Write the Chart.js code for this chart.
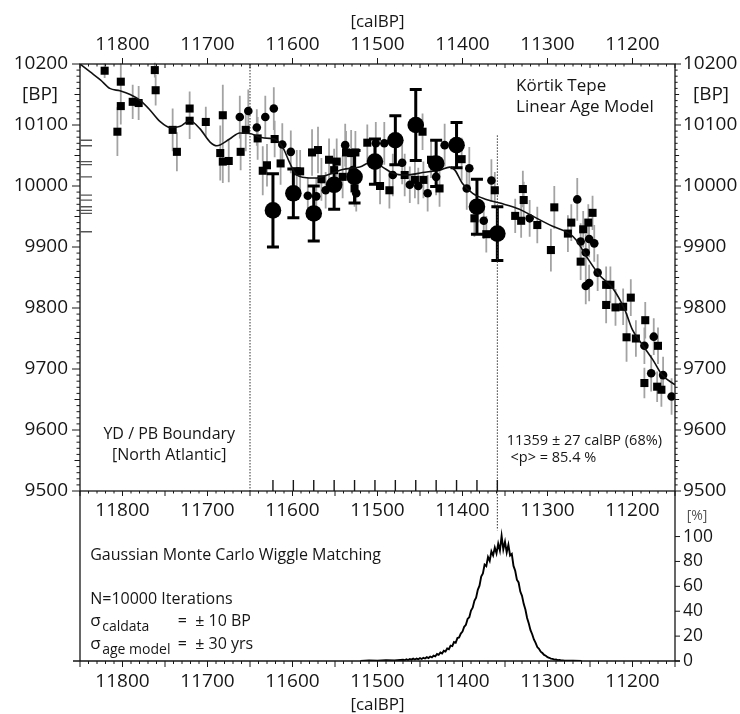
<!DOCTYPE html>
<html>
<head>
<meta charset="utf-8">
<script src="https://cdn.jsdelivr.net/npm/chart.js@4.4.1/dist/chart.umd.min.js"></script>
<style>
  html, body { margin: 0; padding: 0; background: #fff; }
  #wrap { position: relative; width: 740px; height: 714px; }
  #wrap > div { position: absolute; left: 0; top: 0; width: 740px; height: 714px; }
</style>
</head>
<body>
<div id="wrap">
  <div><canvas id="topChart"></canvas></div>
  <div><canvas id="botChart"></canvas></div>
</div>
<script>
/* ══ Körtik Tepe — wiggle match chart ═══════════════════════════════════════ */

// ── Axes ranges & tick labels ─────────────────────────────────────────────────
const X_MIN = 11150, X_MAX = 11850;      // calBP (reversed)
const BP_MIN = 9500, BP_MAX = 10200;     // 14C age
const PCT_MAX = 136.6;                   // lower panel reaches up to the 9500 line
const yearTicks = [11200, 11300, 11400, 11500, 11600, 11700, 11800];
const bpTicks   = [9500, 9600, 9700, 9800, 9900, 10000, 10100, 10200];
const pctTicks  = [0, 20, 40, 60, 80, 100];

// ── Calibration curve ─────────────────────────────────────────────────────────
const curveYear = [11850, 11838, 11826, 11815, 11803, 11791, 11780, 11768, 11756, 11744,
                   11732, 11721, 11709, 11697, 11689, 11674, 11662, 11650, 11638, 11627,
                   11621, 11611, 11603, 11595, 11586, 11574, 11568, 11553, 11541, 11521,
                   11506, 11494, 11482, 11466, 11447, 11427, 11415, 11409, 11400, 11388,
                   11372, 11356, 11333, 11318, 11294, 11274, 11266, 11254, 11239, 11223,
                   11209, 11200, 11188, 11176, 11165, 11150];
const curveBP   = [10200, 10187, 10174, 10160, 10156, 10150, 10141, 10125, 10106, 10096,
                   10098, 10107, 10094, 10072, 10066, 10077, 10087, 10086, 10080, 10078,
                   10077, 10062, 10037, 10018, 10014, 10013, 10014, 10021, 10027, 10031,
                   10040, 10031, 10021, 10018, 10022, 10026, 10031, 10026, 10004, 9988,
                   9978, 9972, 9962, 9951, 9934, 9922, 9911, 9884, 9854, 9832,
                   9797, 9764, 9739, 9715, 9690, 9674];

// ── Calibration data: squares ─────────────────────────────────────────────────
const sqYear = [11821, 11802, 11806, 11802, 11788, 11781, 11762, 11761, 11741, 11736,
                11721, 11721, 11702, 11685, 11682, 11682, 11675, 11661, 11655, 11641,
                11635, 11630, 11621, 11614, 11595, 11591, 11577, 11570, 11566, 11557,
                11551, 11548, 11541, 11537, 11531, 11527, 11526, 11512, 11497, 11486,
                11468, 11456, 11446, 11447, 11437, 11427, 11401, 11386, 11372, 11362,
                11338, 11331, 11329, 11328, 11312, 11296, 11292, 11276, 11272, 11258,
                11252, 11247, 11261, 11231, 11226, 11231, 11220, 11211, 11202, 11207,
                11196, 11185, 11170, 11186, 11171, 11166];
const sqBP   = [10189, 10171, 10089, 10131, 10138, 10136, 10190, 10157, 10092, 10056,
                10127, 10107, 10105, 10054, 10116, 10040, 10041, 10056, 10092, 10078,
                10025, 10034, 10077, 10037, 10024, 10024, 10055, 10059, 10011, 10043,
                10026, 10040, 10015, 10055, 10054, 9996, 10055, 10071, 10000, 9993,
                10018, 10010, 10010, 10089, 10043, 9996, 10044, 9947, 9921, 9993,
                9951, 9943, 9995, 9977, 9936, 9895, 9965, 9922, 9940, 9929,
                9940, 9956, 9876, 9838, 9838, 9805, 9801, 9802, 9817, 9752,
                9750, 9780, 9738, 9677, 9671, 9666];
const sqErr  = [12, 30, 40, 30, 28, 28, 12, 25, 35, 32,
                28, 30, 25, 45, 50, 35, 35, 30, 35, 35,
                40, 35, 30, 35, 35, 35, 38, 38, 35, 35,
                35, 38, 35, 35, 38, 30, 35, 30, 30, 30,
                35, 30, 30, 30, 30, 30, 35, 30, 30, 30,
                28, 28, 30, 30, 30, 35, 35, 30, 30, 30,
                30, 28, 30, 30, 30, 30, 30, 30, 30, 40,
                30, 30, 30, 25, 25, 28];

// ── Calibration data: circles ─────────────────────────────────────────────────
const ciYear = [11662, 11652, 11642, 11632, 11622, 11612, 11602, 11582, 11572, 11561,
                11538, 11529, 11525, 11502, 11492, 11482, 11471, 11462, 11452, 11441,
                11431, 11421, 11395, 11392, 11375, 11366, 11321, 11265, 11261, 11255,
                11251, 11245, 11255, 11251, 11241, 11186, 11175, 11178, 11164, 11154];
const ciBP   = [10113, 10123, 10096, 10113, 10127, 10068, 10056, 9984, 9983, 9993,
                10067, 10026, 9988, 10070, 10070, 10018, 10038, 10002, 10000, 9988,
                10015, 10067, 9996, 10029, 9943, 10009, 9947, 9978, 9909, 9891,
                9913, 9906, 9836, 9841, 9858, 9738, 9753, 9693, 9690, 9655];
const ciErr  = [35, 35, 30, 35, 35, 35, 35, 30, 30, 30,
                35, 35, 30, 35, 35, 35, 35, 30, 30, 30,
                30, 35, 35, 35, 30, 35, 30, 35, 30, 30,
                30, 30, 30, 30, 30, 30, 30, 30, 30, 30];

// ── Körtik Tepe samples (linear age model) ────────────────────────────────────
const bigYear = [11623, 11599, 11575, 11551, 11527, 11503, 11479, 11455, 11431, 11407, 11383, 11359];
const bigBP   = [9960, 9988, 9955, 10002, 10015, 10040, 10075, 10100, 10037, 10067, 9966, 9922];
const bigErr  = [60, 40, 45, 40, 43, 37, 40, 58, 38, 37, 45, 44];

// ── Rug of sample ages on the left axis ───────────────────────────────────────
const rugBP = [10075, 10066, 10040, 10035, 10015, 9985, 9977, 9966, 9960, 9955, 9925];

// ── Monte Carlo distribution [%] ──────────────────────────────────────────────
const histYear = [11520, 11510, 11500, 11490, 11480,
  11470, 11468, 11466, 11464, 11462, 11460, 11458, 11456, 11454, 11452,
  11450, 11448, 11446, 11444, 11442, 11440, 11438, 11436, 11434, 11432,
  11430, 11428, 11426, 11424, 11422, 11420, 11418, 11416, 11414, 11412,
  11410, 11408, 11406, 11404, 11402, 11400, 11398, 11396, 11394, 11392,
  11390, 11388, 11386, 11384, 11382, 11380, 11378, 11376, 11374, 11372,
  11370, 11368, 11366, 11364, 11362, 11360, 11358, 11356, 11354, 11352,
  11350, 11348, 11346, 11344, 11342, 11340, 11338, 11336, 11334, 11332,
  11330, 11328, 11326, 11324, 11322, 11320, 11318, 11316, 11314, 11312,
  11310, 11308, 11306, 11304, 11302, 11300, 11298, 11296, 11294, 11292,
  11290, 11288, 11286, 11284, 11282, 11280, 11270, 11260];
const histPct = [0.0, 0.4, 0.2, 0.7, 0.5,
  1.0, 0.6, 1.4, 0.8, 1.6, 1.1, 1.9, 1.2, 2.0, 1.4,
  2.3, 1.6, 2.6, 2.0, 3.1, 2.4, 3.6, 2.9, 4.4, 3.8,
  5.6, 4.9, 6.8, 6.1, 8.2, 7.6, 10.1, 9.5, 12.3, 12.0,
  15.2, 14.6, 18.4, 18.9, 22.0, 23.6, 27.5, 29.1, 33.8, 35.2,
  40.5, 42.8, 48.3, 50.9, 57.2, 60.5, 67.8, 70.3, 77.5, 76.2,
  83.6, 80.4, 88.1, 84.9, 91.2, 86.5, 94.3, 88.7, 100.5, 89.6,
  95.8, 87.2, 93.4, 84.8, 86.1, 76.4, 72.5, 65.3, 63.1, 55.8,
  52.4, 45.9, 41.3, 34.6, 30.2, 24.8, 21.5, 17.3, 14.6, 11.2,
  9.8, 7.5, 6.4, 4.9, 4.2, 3.1, 2.6, 1.9, 1.7, 1.1,
  1.2, 0.7, 0.8, 0.4, 0.5, 0.2, 0.2, 0.0];

// ── Markers ───────────────────────────────────────────────────────────────────
const YD_PB = 11650;          // YD / PB boundary
const WM_AGE = 11359;         // wiggle match result
const WM_TOP_BP = 10083;      // dotted line starts here in the upper panel
const WM_TOP_PCT = 105;       // and ends here in the lower panel

// ── Style ─────────────────────────────────────────────────────────────────────
const FONT = "'Open Sans', sans-serif";
const INK = '#161616';
const BAR = '#a3a3a3';
Chart.defaults.font.family = FONT;
Chart.defaults.color = INK;

const pts = (xs, ys) => xs.map((x, i) => ({ x, y: ys[i] }));
const fixTicks = vals => s => { s.ticks = vals.map(value => ({ value })); };
const plain = v => String(v);

function txt(ctx, s, px, py, size, align = 'left', color = INK) {
    ctx.font = `${size}px ${FONT}`;
    ctx.fillStyle = color;
    ctx.textAlign = align;
    ctx.textBaseline = 'alphabetic';
    ctx.fillText(s, px, py);
}

const xTicks = pad => ({ padding: pad, autoSkip: false, maxRotation: 0, callback: plain,
                         font: { size: 19 }, color: INK });
const noGrid = { display: false, drawTicks: false };

// ── Plugins ───────────────────────────────────────────────────────────────────
const errorBars = {
    id: 'errorBars',
    beforeDatasetsDraw(chart) {
        const { ctx, scales: { x, y } } = chart;
        const withErr = chart.data.datasets.filter(d => d.errs);
        withErr.sort((a, b) => (a.errCap || 0) - (b.errCap || 0));
        ctx.save();
        withErr.forEach(ds => {
            ctx.strokeStyle = ds.errColor; ctx.lineWidth = ds.errWidth;
            ctx.beginPath();
            ds.data.forEach((p, i) => {
                const px = x.getPixelForValue(p.x);
                const lo = y.getPixelForValue(p.y - ds.errs[i]);
                const hi = y.getPixelForValue(p.y + ds.errs[i]);
                ctx.moveTo(px, lo); ctx.lineTo(px, hi);
                if (ds.errCap) {
                    ctx.moveTo(px - ds.errCap, lo); ctx.lineTo(px + ds.errCap, lo);
                    ctx.moveTo(px - ds.errCap, hi); ctx.lineTo(px + ds.errCap, hi);
                }
            });
            ctx.stroke();
        });
        ctx.restore();
    }
};

const topFrame = {
    id: 'topFrame',
    afterDraw(chart) {
        const { ctx, chartArea: a, scales: { x, y, yr } } = chart;
        ctx.save();
        ctx.strokeStyle = INK; ctx.lineWidth = 1.3;
        ctx.strokeRect(a.left, a.top, a.right - a.left, a.bottom - a.top);

        ctx.beginPath();
        ctx.lineWidth = 1;
        for (let v = X_MIN; v <= X_MAX; v += 10) {
            const px = x.getPixelForValue(v);
            if (v % 100 === 0) { ctx.moveTo(px, a.top - 6); ctx.lineTo(px, a.top); }
            else { ctx.moveTo(px, a.top); ctx.lineTo(px, a.top + (v % 50 === 0 ? 4 : 2.5)); }
            ctx.moveTo(px, a.bottom); ctx.lineTo(px, a.bottom + (v % 50 === 0 ? 5 : 2.5));
        }
        for (let v = BP_MIN; v <= BP_MAX; v += 10) {
            const py = y.getPixelForValue(v);
            const len = v % 100 === 0 ? 8 : v % 50 === 0 ? 5.5 : 3.5;
            ctx.moveTo(a.left - len, py); ctx.lineTo(a.left, py);
            ctx.moveTo(a.right, py); ctx.lineTo(a.right + len * 0.75, py);
        }
        ctx.stroke();

        // sample positions along the bottom edge
        ctx.beginPath(); ctx.lineWidth = 1.4;
        bigYear.forEach(v => {
            const px = x.getPixelForValue(v);
            ctx.moveTo(px, a.bottom); ctx.lineTo(px, a.bottom - 11);
        });
        ctx.stroke();

        // rug on the left axis
        ctx.beginPath(); ctx.strokeStyle = '#555'; ctx.lineWidth = 1.3;
        rugBP.forEach(v => {
            const py = y.getPixelForValue(v);
            ctx.moveTo(a.left, py); ctx.lineTo(a.left + 12, py);
        });
        ctx.stroke();

        // labels
        const X = v => x.getPixelForValue(v), Y = v => y.getPixelForValue(v);
        txt(ctx, '[BP]', (y.left + y.right) / 2, Y(10141), 19, 'center');
        txt(ctx, '[BP]', yr.left + 36, Y(10141), 19, 'center');
        txt(ctx, 'Körtik Tepe', X(11337), Y(10156), 17);
        txt(ctx, 'Linear Age Model', X(11337), Y(10122), 17);
        txt(ctx, 'YD / PB Boundary', X(11745), Y(9586), 16, 'center');
        txt(ctx, '[North Atlantic]', X(11745), Y(9551), 16, 'center');
        txt(ctx, '11359 ± 27 calBP (68%)', X(11348), Y(9575), 14.5);
        txt(ctx, ' <p> = 85.4 %', X(11348), Y(9547), 14.5);
        ctx.restore();
    }
};

const botFrame = {
    id: 'botFrame',
    afterDraw(chart) {
        const { ctx, chartArea: a, scales: { x, yp } } = chart;
        ctx.save();
        ctx.strokeStyle = INK; ctx.lineWidth = 1.3;
        ctx.beginPath();
        ctx.moveTo(a.left, a.top); ctx.lineTo(a.left, a.bottom);
        ctx.moveTo(a.right, a.top); ctx.lineTo(a.right, a.bottom);
        ctx.moveTo(a.left - 7, a.bottom); ctx.lineTo(a.right + 5, a.bottom);
        ctx.stroke();

        ctx.beginPath(); ctx.lineWidth = 1;
        for (let v = X_MIN; v <= X_MAX; v += 10) {
            const px = x.getPixelForValue(v);
            ctx.moveTo(px, a.bottom); ctx.lineTo(px, a.bottom + (v % 50 === 0 ? 6 : 3));
        }
        pctTicks.forEach(v => {
            const py = yp.getPixelForValue(v);
            ctx.moveTo(a.right, py); ctx.lineTo(a.right + 5, py);
        });
        ctx.stroke();

        const X = v => x.getPixelForValue(v), Y = v => yp.getPixelForValue(v);
        txt(ctx, '[%]', yp.left + 22, Y(113.4), 14, 'center', '#555');
        txt(ctx, 'Gaussian Monte Carlo Wiggle Matching', X(11838), Y(81.4), 16);
        txt(ctx, 'N=10000 Iterations', X(11838), Y(45.4), 16);
        const sig = (sub, rest, base) => {
            const px = X(11838), py = Y(base);
            txt(ctx, 'σ', px, py, 17);
            txt(ctx, sub, px + 12, py + 5, 14);
            txt(ctx, rest, X(11735), py, 16);
        };
        sig('caldata', '=  ± 10 BP', 27.8);
        sig('age model', '=  ± 30 yrs', 9.4);
        ctx.restore();
    }
};

// ── Upper panel ───────────────────────────────────────────────────────────────
new Chart(document.getElementById('topChart'), {
    type: 'scatter',
    data: {
        datasets: [
            { data: pts(bigYear, bigBP), errs: bigErr, errColor: '#000', errWidth: 3, errCap: 6,
              pointRadius: 8.3, backgroundColor: '#000', borderWidth: 0, order: 0 },
            { data: pts(curveYear, curveBP), showLine: true, cubicInterpolationMode: 'monotone',
              borderColor: '#111', borderWidth: 1.6, pointRadius: 0, order: 1 },
            { data: pts(ciYear, ciBP), errs: ciErr, errColor: BAR, errWidth: 1.8,
              pointRadius: 4.3, backgroundColor: '#000', borderWidth: 0, order: 2 },
            { data: pts(sqYear, sqBP), errs: sqErr, errColor: BAR, errWidth: 1.8,
              pointStyle: 'rect', pointRadius: 5.7, backgroundColor: '#000', borderWidth: 0, order: 3 },
            { data: [{ x: YD_PB, y: BP_MAX }, { x: YD_PB, y: BP_MIN }], showLine: true,
              borderColor: '#333', borderWidth: 1, borderDash: [1.5, 1.5], pointRadius: 0, order: 5 },
            { data: [{ x: WM_AGE, y: WM_TOP_BP }, { x: WM_AGE, y: BP_MIN }], showLine: true,
              borderColor: '#333', borderWidth: 1, borderDash: [1.5, 1.5], pointRadius: 0, order: 5 },
        ]
    },
    options: {
        responsive: true, maintainAspectRatio: false, animation: false, events: [],
        layout: { padding: 0 },
        plugins: { legend: { display: false }, tooltip: { enabled: false } },
        scales: {
            x: { type: 'linear', position: 'top', min: X_MIN, max: X_MAX, reverse: true,
                 grid: noGrid, border: { display: false }, ticks: xTicks(8),
                 afterBuildTicks: fixTicks(yearTicks),
                 title: { display: true, text: '[calBP]', font: { size: 17 }, color: INK, padding: { top: 12, bottom: 0 } },
                 afterFit: s => { s.height = 64; } },
            xb: { type: 'linear', position: 'bottom', min: X_MIN, max: X_MAX, reverse: true,
                  grid: noGrid, border: { display: false }, ticks: xTicks(8),
                  afterBuildTicks: fixTicks(yearTicks),
                  afterFit: s => { s.height = 223; } },
            y: { type: 'linear', position: 'left', min: BP_MIN, max: BP_MAX,
                 grid: noGrid, border: { display: false },
                 ticks: { padding: 12, font: { size: 19 }, color: INK, callback: plain },
                 afterBuildTicks: fixTicks(bpTicks),
                 afterFit: s => { s.width = 80; } },
            yr: { type: 'linear', position: 'right', min: BP_MIN, max: BP_MAX,
                  grid: noGrid, border: { display: false },
                  ticks: { padding: 8, font: { size: 19 }, color: INK, callback: plain },
                  afterBuildTicks: fixTicks(bpTicks),
                  afterFit: s => { s.width = 65; } },
        }
    },
    plugins: [errorBars, topFrame]
});

// ── Lower panel ───────────────────────────────────────────────────────────────
new Chart(document.getElementById('botChart'), {
    type: 'scatter',
    data: {
        datasets: [
            { data: pts(histYear, histPct), yAxisID: 'yp', showLine: true,
              borderColor: '#000', borderWidth: 1.9, pointRadius: 0 },
            { data: [{ x: WM_AGE, y: PCT_MAX }, { x: WM_AGE, y: WM_TOP_PCT }], yAxisID: 'yp', showLine: true,
              borderColor: '#333', borderWidth: 1, borderDash: [1.5, 1.5], pointRadius: 0 },
        ]
    },
    options: {
        responsive: true, maintainAspectRatio: false, animation: false, events: [],
        layout: { padding: { top: 491 } },
        plugins: { legend: { display: false }, tooltip: { enabled: false } },
        scales: {
            x: { type: 'linear', position: 'bottom', min: X_MIN, max: X_MAX, reverse: true,
                 grid: noGrid, border: { display: false }, ticks: xTicks(9),
                 afterBuildTicks: fixTicks(yearTicks),
                 title: { display: true, text: '[calBP]', color: INK,
                          font: { size: 17, lineHeight: 1 }, padding: { top: 0, bottom: 0 } },
                 afterFit: s => { s.height = 53; } },
            yl: { type: 'linear', position: 'left', min: 0, max: PCT_MAX,
                  grid: noGrid, border: { display: false }, ticks: { display: false },
                  afterFit: s => { s.width = 80; } },
            yp: { type: 'linear', position: 'right', min: 0, max: PCT_MAX,
                  grid: noGrid, border: { display: false },
                  ticks: { padding: 8, font: { size: 17.5 }, color: INK, callback: plain },
                  afterBuildTicks: fixTicks(pctTicks),
                  afterFit: s => { s.width = 65; } },
        }
    },
    plugins: [botFrame]
});
</script>
</body>
</html>
